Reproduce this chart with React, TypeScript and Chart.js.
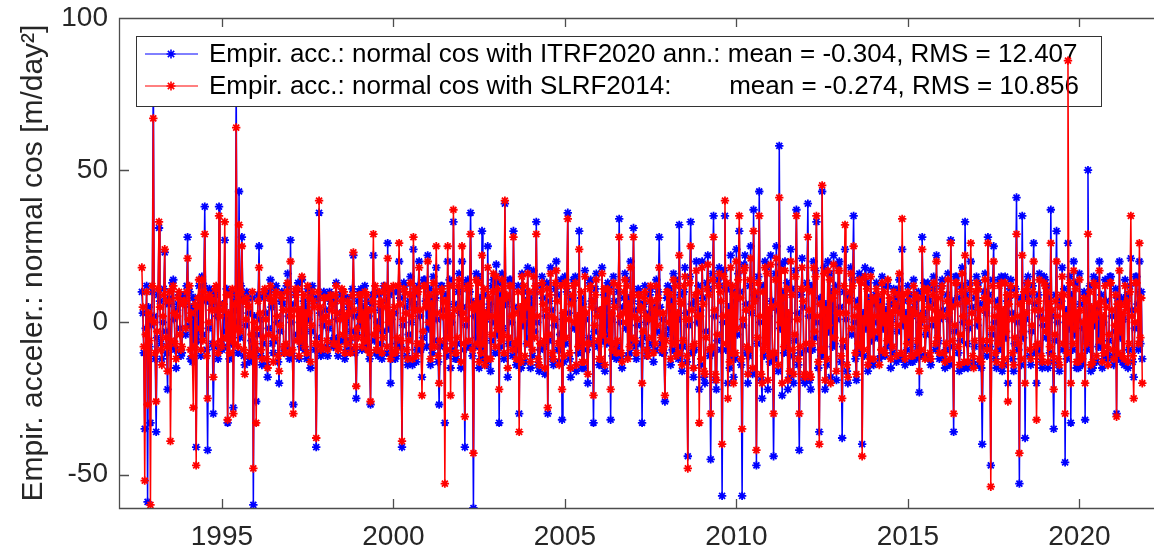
import { useEffect, useRef } from "react";
import { Chart, registerables } from "chart.js";

Chart.register(...registerables);

const FONT = '"Liberation Sans", Arial, Helvetica, sans-serif';
const AXIS_COLOR = "#262626";

// three values per month, first one Sep 1992
const firstEpoch = 1992 + 24 / 36;
const epochStep = 1 / 36;

// empirical acceleration, normal cos, ITRF2020 with annual terms [m/day^2]
const itrf2020Acc = [
  // 1992
  10, 3, -10, -35, -2, 12, -59, 5, -8, -33, -1, 10,
  // 1993
  88, 2, -12, -36, -5, 9, 31, 7, -7, -12, 0, 11, 23, -3, -10, -22, 6, 8,
  -8, -7, 13, 14, 1, -9, -15, 4, 6, 9, -2, -11, -10, 8, 9, 6, -4, 12,
  // 1994
  28, -1, 10, -12, 5, -13, 8, -6, 8, -41, 3, -6, 12, 0, -11, 15, -4, 12,
  38, 7, -9, -42, -2, 11, 10, 6, -7, -30, -8, 9, 11, 2, -12, 38, 4, -8,
  // 1995
  -9, 6, -8, 27, -3, 11, -33, 1, -12, 10, -7, 9, -28, 4, 7, 80, 0, -10,
  43, -5, 12, 28, 8, -11, -14, -1, 10, 8, 3, -13, -12, -6, 8, -60, 2, -9,
  // 1996
  -26, -4, 9, 25, 1, -11, -14, -7, 8, 9, 3, -14, -18, -2, 10, 14, 5, -7,
  -10, -6, 11, 12, 0, -13, -20, -3, 7, 10, 6, -10, -8, -8, 12, 16, 2, -12,
  // 1997
  27, 0, -11, -27, 6, 9, 10, -4, 13, -12, 2, -8, 14, -7, 7, -9, 5, -12,
  11, 1, 10, -15, -3, 12, 8, 7, -9, -41, -5, 8, 36, 3, -11, -10, -1, 10,
  // 1998
  9, 4, -8, -11, -2, 10, 7, 6, -6, -8, -5, 7, 13, 1, -11, -6, 3, 9,
  10, -6, 8, -12, 0, -9, 8, 5, -6, -9, -3, 11, 22, 2, -10, -25, -4, 7,
  // 1999
  10, -1, 11, -9, 5, -8, 12, -4, 7, -8, 2, -12, -27, 6, 9, 22, -6, 10,
  -10, 0, -11, 9, 4, -7, -12, -3, 12, 11, 7, -10, 26, -2, 9, -20, 1, -12,
  // 2000
  10, 3, -12, -11, -7, 10, 20, 8, -8, -41, -1, 13, 12, 5, -11, -14, -4, 7,
  15, 0, -14, 24, 6, 9, -13, -9, 12, 20, 2, -9, -18, -5, 14, 14, 7, -8,
  // 2001
  22, -2, 11, -14, 8, -10, 15, -6, 8, 18, 1, -13, -27, -8, 12, 12, 4, -7,
  -33, 9, -11, 20, -3, 14, -15, 0, -9, 33, 6, -12, -12, -7, 10, 16, 3, -15,
  // 2002
  20, 5, -9, -41, -1, 13, 14, -8, 10, 36, 7, -11, -61, 2, -8, 16, -5, 15,
  -15, 8, -12, 30, -9, 9, -12, 1, -14, 25, 4, 6, -16, -6, 12, 14, 0, -10,
  // 2003
  19, -4, 13, -33, 9, -8, 16, -2, -12, 39, 6, 7, -18, -7, 14, 14, 0, -11,
  30, 5, -9, -14, -8, 12, -30, 3, -15, 16, -1, 10, -13, 7, -7, 18, -5, 8,
  // 2004
  -15, 6, -11, 17, -3, 10, 33, 0, -14, -16, -9, 12, 15, 8, -8, -17, 2, 13,
  -30, -6, 7, 18, 4, -12, -14, -1, 11, 20, 9, -9, -13, -4, 14, -32, 1, -13,
  // 2005
  15, -7, 10, 36, 3, -12, -18, 8, 7, 14, -2, 15, -16, 0, -10, 30, -8, 8,
  -15, 6, -15, 17, 1, -9, -20, -5, 13, 14, 7, -7, -33, -3, 11, 16, 4, -8,
  // 2006
  -14, 2, -14, 18, -6, 9, -16, 9, -7, 13, -4, 12, -32, 1, -11, 15, 7, -9,
  -12, -8, 10, 34, 0, -12, -15, 5, 8, 16, -2, 14, -11, 8, -10, 20, -7, 7,
  // 2007
  31, 4, -8, -12, -1, 11, 10, 6, -7, -33, -5, 6, 12, 0, -11, -9, 3, 9,
  11, -7, 5, -13, 2, -9, 14, -3, 10, 28, 5, -7, -10, 1, -10, -26, -4, 8,
  // 2008
  12, -2, 11, -14, 7, -9, 16, -5, 14, -10, 1, -12, 32, 9, -8, -16, -8, 10,
  18, 3, -13, -44, -1, 15, 33, 6, -10, -18, -9, 7, 20, 0, 12, -22, 4, -14,
  // 2009
  20, 8, -18, -20, -3, 13, 22, 11, -11, -45, -10, 16, 35, 2, -19, -22, -6, 14,
  18, 12, -9, -57, 0, 17, 35, -9, 11, -20, 5, -15, 22, -12, 10, -18, 7, -12,
  // 2010
  24, -4, 16, 30, 10, -14, -57, -1, 19, 22, 6, -10, -20, -11, 12, 25, 3, -17,
  37, 9, 8, -47, -7, 15, 43, 0, -19, -25, 12, -11, 20, -5, 18, -22, 2, -13,
  // 2011
  22, 7, -12, -44, -12, 16, 25, 4, -16, 58, -2, 19, -24, 10, -10, 20, -8, 13,
  -22, 1, -18, 24, 11, -11, -20, -6, 17, 37, 3, -14, -42, -10, 9, 21, 5, -19,
  // 2012
  -20, -9, 13, 39, 2, -19, -22, 12, -9, 20, -5, 17, 33, 0, -15, -36, 8, -11,
  43, -11, 18, -22, 6, -14, 20, -3, 16, -18, 10, -8, 22, -7, 12, -19, 1, 19,
  // 2013
  20, 5, -13, -38, -8, 10, 24, 1, -16, -20, 9, 8, 18, -4, 14, 35, 0, -12,
  -19, 7, -9, 16, -10, 15, -40, 3, -11, 18, -2, 13, -16, 8, -14, 17, -6, 6,
  // 2014
  -14, 0, 9, 13, -5, 7, -12, 7, -11, 15, -2, 12, -11, 4, -8, 12, -7, 6,
  -15, 1, -10, 11, 6, 8, -13, -3, 11, 14, 5, -12, 24, -1, 7, -14, 3, -9,
  // 2015
  12, -6, 9, -13, 2, -13, 14, 5, 7, -12, -8, 10, -23, 0, -11, 28, 3, 13,
  -11, -4, 8, 13, 7, -12, -14, -1, 11, 15, 6, -9, 22, -7, -6, -12, 1, 12,
  // 2016
  14, 4, -12, -15, -9, 9, 16, 1, -14, 27, 7, -8, -36, -3, 15, 15, 8, -10,
  -16, -6, 12, 18, 0, -15, 33, 9, -7, -15, -2, 13, 20, 5, -13, -14, -8, 8,
  // 2017
  15, -1, 13, -14, 6, -15, -40, -8, 10, 16, 3, -11, 28, 9, -8, -47, -4, 14,
  25, 0, -12, -15, 7, -9, 14, -7, 15, -16, 2, -14, 15, -5, 7, -20, 8, 11,
  // 2018
  14, 3, -12, -16, -7, 11, 41, 0, -9, -53, 8, -14, 35, -5, 8, -38, 1, 13,
  15, 9, -11, -14, -3, 12, 26, 6, -10, -20, -9, 9, 16, 2, -13, -15, -1, 15,
  // 2019
  14, -5, 12, -15, 8, -10, 37, 2, -13, -35, -6, 9, 30, 0, -14, -16, 7, 7,
  18, -9, 11, -46, 4, -12, 26, -2, 15, -33, 9, -9, 20, -4, 13, -15, 1, -15,
  // 2020
  16, 6, -13, -14, -2, 10, -32, 9, -9, 50, -7, 12, -16, 3, -15, 15, -1, 14,
  -13, 5, -8, 20, -8, 9, -15, 0, -12, 14, 7, -10, -12, -6, 15, 15, 2, -11,
  // 2021
  -14, -3, 11, -30, 8, -12, 20, -5, 8, -13, 1, -14, 14, 7, 9, -15, -9, 12,
  21, 4, -13, -18, -2, 15, 15, 6, -9, 20, -7, 10, -12,
];

// same arcs, SLRF2014 station coordinates
const slrf2014Acc = [
  // 1992
  18, 5, -8, -52, -4, 10, -27, 3, -6, -60, 1, 12,
  // 1993
  67, 0, -10, -26, -3, 11, 33, 5, -9, -14, 2, 9, 24, -5, -8, -16, 7, 10,
  -39, -6, 11, 12, 3, -7, -12, 2, 8, 10, -4, -9, -8, 6, 7, 7, -2, 10,
  // 1994
  21, 1, 12, -9, 3, -11, -28, -8, 6, -47, 5, 8, 14, -2, -9, 14, -6, 10,
  29, 8, -11, -25, 0, 9, 8, 4, 7, -18, -7, 11, 12, 4, -10, 35, 2, -6,
  // 1995
  -8, 4, 6, 33, -5, 9, -32, 3, -10, 9, -6, 11, -30, 6, -7, 64, -2, -8,
  32, -3, 10, 25, 7, -9, -17, 1, 8, 6, 5, -11, -10, -4, 10, -48, 0, -7,
  // 1996
  -33, -2, 7, 18, 3, -9, -12, -5, 10, 11, 1, -12, -15, -4, 8, 12, 7, 7,
  -13, -5, 9, 10, 2, -11, -16, -1, 9, 8, 4, -8, -10, -7, 10, 13, 4, -10,
  // 1997
  20, 2, -9, -30, 4, 11, 9, -6, 11, -11, 4, -6, 15, -5, 9, -8, 3, -10,
  12, 3, 8, -13, -1, 10, 7, 5, -7, -38, -7, 10, 40, 5, -9, -8, 1, 8,
  // 1998
  8, 2, -6, -9, 0, 8, 9, 4, 6, -7, -7, 9, 12, 3, -9, -8, 1, 7,
  11, -4, 10, -10, 2, -7, 7, 3, 6, -10, -5, 9, 23, 4, -8, -21, -2, -5,
  // 1999
  9, 1, 9, -8, 3, -6, 10, -6, 9, -9, 4, -10, -26, 4, 7, 29, -4, 12,
  -9, -2, -9, 10, 6, 7, -10, -5, 10, 12, 5, -8, 21, 0, 11, -12, 3, -10,
  // 2000
  12, 5, -10, -9, -5, 12, 26, 6, -6, -39, 1, 11, 10, 3, -9, -12, -6, 9,
  13, 2, -12, 28, 4, 11, -11, -7, 10, 18, 4, -7, -24, -3, 12, 12, 5, 6,
  // 2001
  20, 0, 9, -12, 6, -8, 13, -8, 10, 25, 3, -11, -20, -6, 10, 11, 2, 7,
  -53, 7, -9, 25, -5, 12, -24, 2, -7, 37, 4, -10, -10, -5, 12, 14, 5, -13,
  // 2002
  25, 3, -7, -31, 1, 11, 12, -6, 12, 29, 5, -9, -43, 4, 6, 14, -7, 13,
  -13, 6, -10, 22, -7, 11, -14, 3, -12, 18, 2, 8, -12, -4, 10, 16, 2, -8,
  // 2003
  15, -2, 11, -22, 7, -6, 14, -4, -10, 40, 8, 9, -15, -5, 12, 12, 2, -9,
  28, 3, -7, -12, -6, 10, -36, 5, -13, 15, 1, 12, -11, 5, 7, 16, -7, 10,
  // 2004
  -13, 4, -9, 15, -5, 12, 29, 2, -12, -14, -7, 10, 13, 6, -6, -15, 4, 11,
  -28, -4, 9, 16, 2, -10, -12, 1, 13, 17, 7, -7, -14, -6, 12, -22, 3, -11,
  // 2005
  13, -5, 12, 34, 1, -10, -15, 6, 9, 12, 0, 13, -14, 2, -8, 24, -6, 10,
  -13, 4, -13, 15, 3, -7, -17, -7, 11, 12, 5, 7, -24, -1, 9, 14, 2, -6,
  // 2006
  -12, 4, -12, 16, -4, 11, -14, 7, 7, 11, -6, 10, -22, 3, -9, 13, 5, -7,
  -10, -6, 12, 28, 2, -10, -13, 3, 10, 14, 0, 12, -12, 6, -8, 18, -5, 9,
  // 2007
  28, 2, -6, -10, 1, 9, 9, 4, 5, -20, -3, 8, 10, 2, -9, -11, 1, 7,
  12, -5, 7, -10, 4, -7, 12, -1, 8, 18, 3, -5, -9, 3, -8, -24, -6, 10,
  // 2008
  10, 0, 9, -12, 5, -7, 14, -7, 12, -11, 3, -10, 22, 7, 6, -14, -6, 12,
  15, 1, -11, -48, 1, 13, 25, 4, -8, -15, -7, 9, 17, 2, 10, -33, 2, -12,
  // 2009
  18, 6, -16, -17, -5, 11, 19, 9, -9, -30, -8, 14, 28, 4, -17, -19, -4, 12,
  16, 10, 7, -40, 2, 15, 40, -7, 13, -25, 3, -13, 18, -10, 12, -20, 9, -10,
  // 2010
  20, -2, 14, 35, 8, -12, -35, 1, 17, 18, 4, -8, -17, -9, 14, 21, 5, -15,
  30, 7, 10, -42, -5, 13, 35, 2, -17, -20, 10, -9, 18, -7, 16, -19, 4, -11,
  // 2011
  19, 5, -10, -30, -10, 14, 21, 6, -14, 41, 0, 17, -20, 8, -8, 17, -6, 11,
  -19, 3, -16, 20, 9, -9, -17, -4, 15, 35, 1, -12, -30, -8, 11, 18, 7, -17,
  // 2012
  -18, -7, 11, 28, 4, -17, -18, 10, -7, 18, -3, 15, 35, 2, -13, -40, 6, -9,
  45, -9, 16, -19, 4, -12, 17, -1, 14, -20, 8, 8, 19, -5, 10, -16, 3, 17,
  // 2013
  17, 3, -11, -25, -6, 12, 32, 3, -14, -18, 7, 10, 16, -2, 12, 25, 2, -10,
  -17, 5, -7, 14, -8, 13, -44, 1, -9, 15, 0, 11, -14, 6, -12, 15, -4, 8,
  // 2014
  -12, 2, 7, 11, -3, 9, -14, 5, -9, 13, 0, 10, -10, 2, -6, 14, -5, 8,
  -12, 3, -8, 10, 4, 6, -11, -1, 9, 16, 3, -10, 34, 1, 9, -12, 1, -7,
  // 2015
  10, -4, 7, -11, 4, -11, 12, 3, 9, -10, -6, 8, -16, 2, -9, 24, 1, 11,
  -12, -2, 10, 11, 5, -10, -12, 1, 9, 13, 4, -7, 20, -5, 8, -10, 3, 10,
  // 2016
  12, 2, -10, -13, -7, 7, 14, 3, -12, 26, 5, -6, -30, -1, 13, 13, 6, -8,
  -14, -4, 10, 16, 2, -13, 22, 7, 7, -13, 0, 11, 26, 3, -11, -15, -6, 10,
  // 2017
  13, 1, 11, -12, 4, -13, -25, -6, 8, 14, 5, -9, 26, 7, -6, -54, -2, 12,
  20, 2, -10, -13, 5, -7, 12, -5, 13, -14, 4, -12, 13, -3, 9, -26, 6, 9,
  // 2018
  12, 1, -10, -14, -5, 9, 29, 2, -7, -43, 6, -12, 22, -3, 10, -20, 3, 11,
  13, 7, -9, -12, -1, 10, 20, 4, -8, -32, -7, 7, 14, 4, -11, -13, 1, 13,
  // 2019
  12, -3, 10, -13, 6, -8, 26, 4, -11, -22, -4, 7, 20, 2, -12, -14, 5, 9,
  15, -7, 9, -30, 2, -10, 86, 0, 13, -20, 7, -7, 17, -2, 11, -13, 3, -13,
  // 2020
  14, 4, -11, -12, 0, 8, -20, 7, -7, 29, -5, 10, -14, 5, -13, 13, 1, 12,
  -11, 3, 6, 17, -6, 7, -13, 2, -10, 12, 5, -8, -14, -4, 13, 13, 4, -9,
  // 2021
  -12, -1, 9, -31, 6, -10, 17, -3, 6, -11, 3, -12, 12, 5, 7, -13, -7, 10,
  35, 2, -11, -25, 0, 13, 13, 4, -7, 26, -5, 8, -20,
];

const itrfLabel =
  "Empir. acc.: normal cos with ITRF2020 ann.: mean = -0.304, RMS = 12.407";
const slrfLabel =
  "Empir. acc.: normal cos with SLRF2014:        mean = -0.274, RMS = 10.856";
const yAxisLabel = "Empir. acceler.: normal cos [m/day²]";

const xTickYears = [1995, 2000, 2005, 2010, 2015, 2020];
const yTickValues = [-50, 0, 50, 100];

const toPoints = (values: number[]) =>
  values.map((y, i) => ({ x: firstEpoch + i * epochStep, y }));

function drawAsterisk(ctx: CanvasRenderingContext2D, x: number, y: number, r: number) {
  ctx.beginPath();
  for (let k = 0; k < 4; k++) {
    const a = (k * Math.PI) / 4;
    ctx.moveTo(x - r * Math.cos(a), y - r * Math.sin(a));
    ctx.lineTo(x + r * Math.cos(a), y + r * Math.sin(a));
  }
  ctx.stroke();
}

// matlab style legend box inside the axes, drawn between the blue and red lines
const legendBox = {
  id: "legendBox",
  beforeDatasetDraw(chart: any, args: any) {
    if (args.index !== 1) return;
    const { ctx, chartArea } = chart;
    const datasets = chart.data.datasets;
    const left = chartArea.left + 17;
    const top = chartArea.top + 18;
    ctx.save();
    ctx.font = `26px ${FONT}`;
    const textW = Math.max(...datasets.map((d: any) => ctx.measureText(d.label).width));
    const w = Math.round(73 + textW + 22);
    const h = 70;
    ctx.fillStyle = "#ffffff";
    ctx.fillRect(left, top, w, h);
    ctx.strokeStyle = "#333333";
    ctx.lineWidth = 1;
    ctx.strokeRect(left + 0.5, top + 0.5, w, h);
    datasets.forEach((d: any, i: number) => {
      const y = top + 18 + i * 32;
      ctx.strokeStyle = d.borderColor;
      ctx.lineWidth = 1;
      ctx.beginPath();
      ctx.moveTo(left + 9, y);
      ctx.lineTo(left + 62, y);
      ctx.stroke();
      ctx.lineWidth = 1.6;
      drawAsterisk(ctx, left + 35, y, 4.5);
      ctx.fillStyle = "#000000";
      ctx.textAlign = "left";
      ctx.textBaseline = "middle";
      ctx.fillText(d.label, left + 73, y + 1);
    });
    ctx.restore();
  },
};

// box lines and inward ticks
const axesFrame = {
  id: "axesFrame",
  afterDraw(chart: any) {
    const { ctx, chartArea, scales } = chart;
    const { left, top, bottom } = chartArea;
    const W = chart.width;
    ctx.save();
    ctx.strokeStyle = "#4d4d4d";
    ctx.lineWidth = 1.3;
    ctx.beginPath();
    ctx.moveTo(W, top + 0.5);
    ctx.lineTo(left + 0.5, top + 0.5);
    ctx.lineTo(left + 0.5, bottom + 0.5);
    ctx.lineTo(W, bottom + 0.5);
    xTickYears.forEach((v) => {
      const px = Math.round(scales.x.getPixelForValue(v)) + 0.5;
      ctx.moveTo(px, bottom);
      ctx.lineTo(px, bottom - 9);
      ctx.moveTo(px, top);
      ctx.lineTo(px, top + 9);
    });
    yTickValues.forEach((v) => {
      const py = Math.round(scales.y.getPixelForValue(v)) + 0.5;
      ctx.moveTo(left, py);
      ctx.lineTo(left + 10, py);
    });
    ctx.stroke();
    ctx.restore();
  },
};

export default function App() {
  const canvasRef = useRef<HTMLCanvasElement>(null);
  const chartRef = useRef<Chart | null>(null);

  useEffect(() => {
    document.body.style.margin = "0";
    if (!canvasRef.current) return;
    if (chartRef.current) chartRef.current.destroy();

    chartRef.current = new Chart(canvasRef.current, {
      type: "line",
      data: {
        datasets: [
          {
            label: itrfLabel,
            data: toPoints(itrf2020Acc),
            borderColor: "#0000ff",
            backgroundColor: "#0000ff",
            borderWidth: 1.5,
            pointStyle: "star",
            pointRadius: 4.2,
            pointBorderWidth: 1.8,
            pointBorderColor: "#0000ff",
            tension: 0,
            order: 2,
          },
          {
            label: slrfLabel,
            data: toPoints(slrf2014Acc),
            borderColor: "#ff0000",
            backgroundColor: "#ff0000",
            borderWidth: 1.5,
            pointStyle: "star",
            pointRadius: 4.2,
            pointBorderWidth: 1.8,
            pointBorderColor: "#ff0000",
            tension: 0,
            order: 1,
          },
        ],
      },
      options: {
        animation: false,
        responsive: false,
        layout: { padding: { top: 18, right: 3, left: 0, bottom: 0 } },
        plugins: {
          legend: { display: false },
          tooltip: { enabled: false },
        },
        scales: {
          x: {
            type: "linear",
            min: 1992,
            max: 2022,
            afterBuildTicks: (axis: any) => {
              axis.ticks = xTickYears.map((v) => ({ value: v }));
            },
            afterFit: (axis: any) => {
              axis.height = 42;
              axis.paddingLeft = 0;
              axis.paddingRight = 0;
            },
            grid: { display: false, drawTicks: false },
            border: { display: false },
            ticks: {
              color: AXIS_COLOR,
              font: { family: FONT, size: 28 },
              padding: 12,
              maxRotation: 0,
              autoSkip: false,
              callback: (v: any) => String(v),
            },
          },
          y: {
            type: "linear",
            min: -61,
            max: 100,
            afterBuildTicks: (axis: any) => {
              axis.ticks = yTickValues.map((v) => ({ value: v }));
            },
            afterFit: (axis: any) => {
              axis.width = 119;
              axis.paddingTop = 0;
              axis.paddingBottom = 0;
            },
            grid: { display: false, drawTicks: false },
            border: { display: false },
            ticks: {
              color: AXIS_COLOR,
              font: { family: FONT, size: 28 },
              padding: 11,
              autoSkip: false,
              callback: (v: any) => String(v),
            },
            title: {
              display: true,
              text: yAxisLabel,
              color: AXIS_COLOR,
              font: { family: FONT, size: 30 },
              padding: { top: 16, bottom: 0 },
            },
          },
        },
      },
      plugins: [legendBox, axesFrame],
    });

    return () => {
      if (chartRef.current) {
        chartRef.current.destroy();
        chartRef.current = null;
      }
    };
  }, []);

  return (
    <div style={{ width: 1154, height: 550, background: "#ffffff" }}>
      <canvas ref={canvasRef} width={1154} height={550} style={{ display: "block" }} />
    </div>
  );
}
